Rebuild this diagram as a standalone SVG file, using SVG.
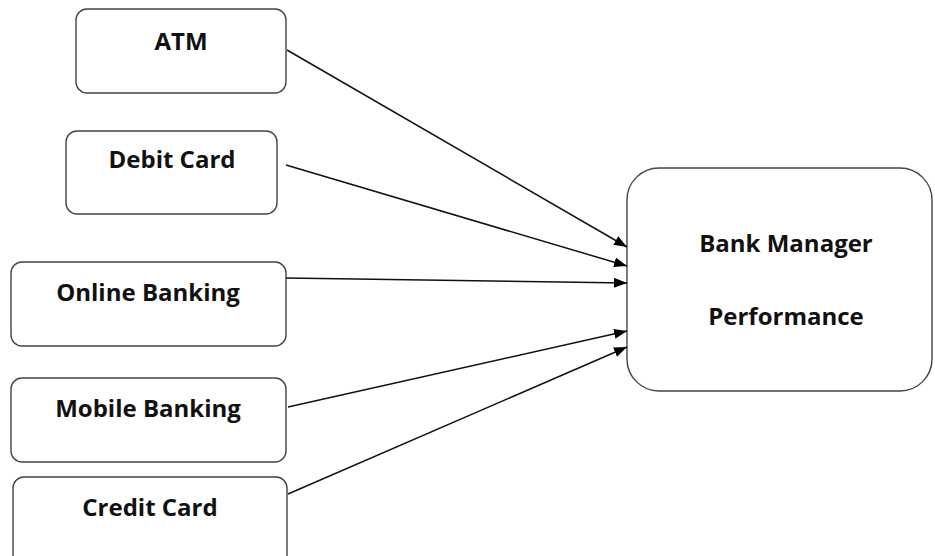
<svg xmlns="http://www.w3.org/2000/svg" width="935" height="556" viewBox="0 0 935 556">
<style>
.box{fill:#fff;stroke:#444;stroke-width:1.4}
.lbl{font-family:"Open Sans","Liberation Sans",sans-serif;font-weight:bold;font-size:24px;fill:#111;text-anchor:middle}
.edge{stroke:#111;stroke-width:1.5;fill:none;marker-end:url(#arr)}
</style>
<defs>
<marker id="arr" viewBox="0 0 13 10" refX="13" refY="5" markerWidth="13" markerHeight="10" markerUnits="userSpaceOnUse" orient="auto">
<path d="M0,0 L13,5 L0,10 Z" fill="#000"/>
</marker>
</defs>
<rect width="935" height="556" fill="#fff"/>
<g id="atm"><rect class="box" x="76" y="9" width="210" height="84" rx="11"/><text class="lbl" x="181" y="50">ATM</text></g>
<g id="debit"><rect class="box" x="66" y="131" width="211" height="83" rx="11"/><text class="lbl" x="172" y="168">Debit Card</text></g>
<g id="online"><rect class="box" x="11" y="262" width="275" height="84" rx="11"/><text class="lbl" x="148" y="301">Online Banking</text></g>
<g id="mobile"><rect class="box" x="11" y="378" width="275" height="84" rx="11"/><text class="lbl" x="148" y="417">Mobile Banking</text></g>
<g id="credit"><rect class="box" x="13" y="477" width="274" height="90" rx="11"/><text class="lbl" x="150" y="516">Credit Card</text></g>
<g id="bank"><rect class="box" x="627" y="168" width="305" height="223" rx="32"/><text class="lbl" x="786" y="252">Bank Manager</text><text class="lbl" x="786" y="325">Performance</text></g>
<g id="connectors">
<line class="edge" x1="287" y1="50" x2="627" y2="247"/>
<line class="edge" x1="286" y1="165" x2="627" y2="266"/>
<line class="edge" x1="286" y1="278" x2="627" y2="283"/>
<line class="edge" x1="288" y1="407" x2="627" y2="331"/>
<line class="edge" x1="288" y1="494" x2="627" y2="347"/>
</g>
</svg>
